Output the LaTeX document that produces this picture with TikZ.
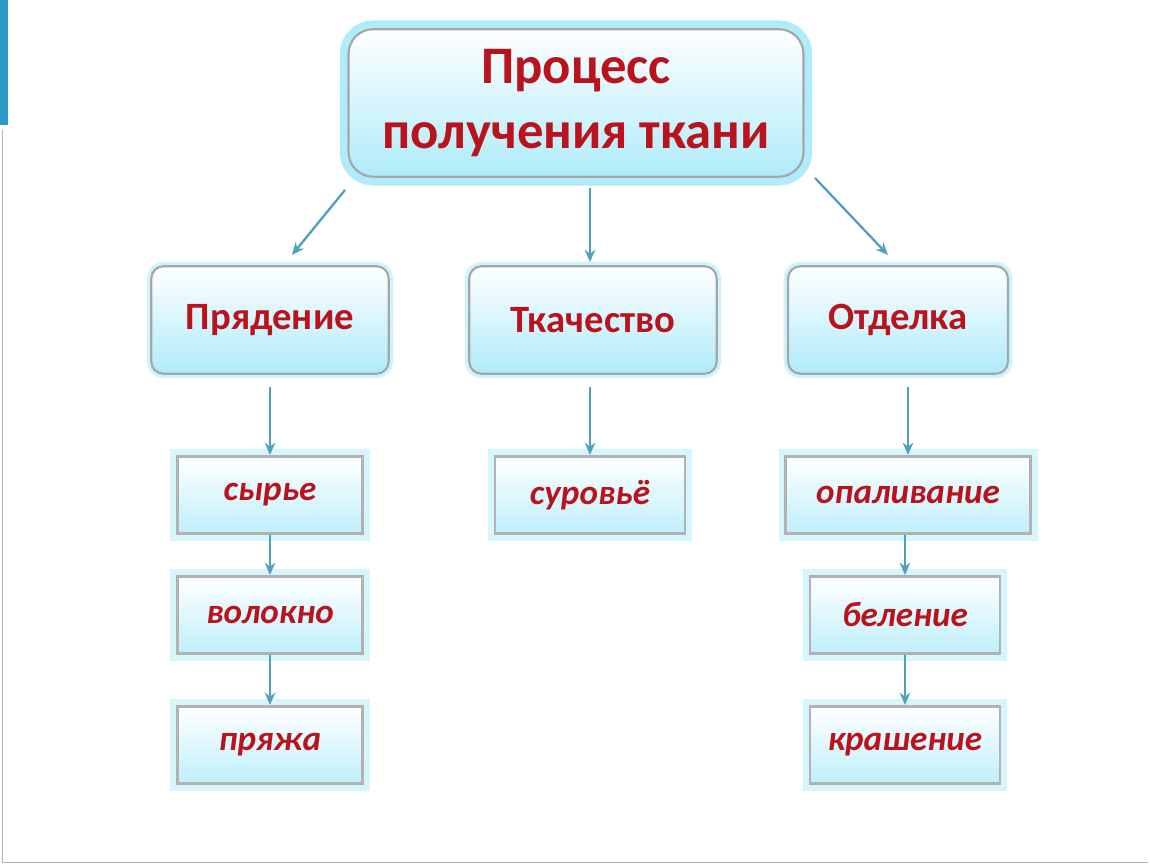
\documentclass[tikz,border=0pt]{standalone}
\usepackage{fontspec}
\setmainfont{Carlito}
\usetikzlibrary{arrows.meta}
\definecolor{tred}{RGB}{185,20,30}
\definecolor{tline}{RGB}{80,160,185}
\definecolor{tglow}{RGB}{175,235,250}
\tikzset{
  main/.style={draw=gray!70,rounded corners=14pt,line width=1.2pt,top color=white,bottom color=tglow,
    preaction={draw=tglow,line width=10pt,rounded corners=14pt},
    minimum width=9.1cm,minimum height=2.95cm,font=\bfseries\fontsize{30}{37}\selectfont,
    text=tred,align=center},
  stage/.style={draw=gray!70,rounded corners=7pt,line width=1.2pt,top color=white,bottom color=tglow,
    preaction={draw=tglow!60,line width=5pt,rounded corners=7pt},
    minimum height=2.15cm,font=\bfseries\fontsize{22}{26}\selectfont,text=tred},
  item/.style={draw=gray!60,line width=1.5pt,top color=white,bottom color=tglow!80,
    preaction={draw=tglow!50,line width=8pt,rounded corners=3pt},
    minimum height=1.55cm,font=\bfseries\itshape\fontsize{20}{24}\selectfont,text=tred},
  link/.style={-{Stealth[length=7pt,width=6pt]},draw=tline,line width=1.3pt}
}
\begin{document}
\begin{tikzpicture}[x=0.02cm,y=-0.02cm]
\useasboundingbox (0,0) rectangle (1150,864);
\fill[cyan!60!teal] (0,0) rectangle (8,125);
\draw[gray!60] (2,130) -- (2,862) -- (1148,862);

\node[main] (top) at (576,103) {Процесс\\получения ткани};

\node[stage,minimum width=4.75cm] (spin) at (270,320) {Прядение};
\node[stage,minimum width=4.95cm] (weave) at (593,320) {Ткачество};
\node[stage,minimum width=4.4cm] (finish) at (898,320) {Отделка};

\node[item,minimum width=3.7cm] (raw) at (270,495) {сырье};
\node[item,minimum width=3.7cm] (fibre) at (270,615) {волокно};
\node[item,minimum width=3.7cm] (yarn) at (270,745) {пряжа};
\node[item,minimum width=3.8cm] (grey) at (590,495) {суровьё};
\node[item,minimum width=4.9cm] (singe) at (908,495) {опаливание};
\node[item,minimum width=3.8cm] (bleach) at (905,615) {беление};
\node[item,minimum width=3.8cm] (dye) at (905,745) {крашение};

\coordinate (topmid) at (590,188);
\coordinate (weavein) at (590,262);
\draw[link] (345,190) -- (292,255);
\draw[link] (topmid) -- (weavein);
\draw[link] (815,178) -- (888,255);
\draw[link] (spin.south -| raw.north) ++(0,12) -- (raw.north);
\draw[link] (raw.south) -- (fibre.north);
\draw[link] (fibre.south) -- (yarn.north);
\draw[link] (weave.south -| grey.north) ++(0,12) -- (grey.north);
\draw[link] (finish.south -| singe.north) ++(0,12) -- (singe.north);
\draw[link] (singe.south -| bleach.north) -- (bleach.north);
\draw[link] (bleach.south) -- (dye.north);
\end{tikzpicture}
\end{document}
